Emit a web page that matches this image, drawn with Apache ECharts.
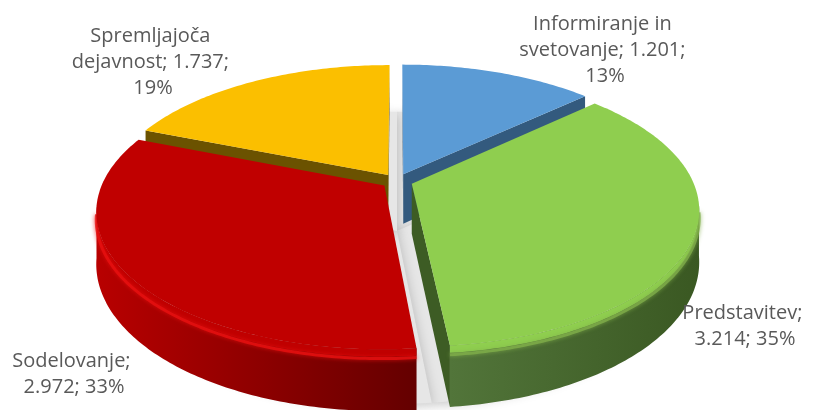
<!DOCTYPE html>
<html>
<head>
<meta charset="utf-8">
<script src="https://cdn.jsdelivr.net/npm/echarts@6/dist/echarts.min.js"></script>
<style>
html, body { margin: 0; padding: 0; background: #fff; }
#chart { width: 813px; height: 410px; }
</style>
</head>
<body>
<div id="chart"></div>
<script>
// data
const categories = ['Informiranje in svetovanje', 'Predstavitev', 'Sodelovanje', 'Spremljajoča dejavnost'];
const values = [1201, 3214, 2972, 1737];

// look
const topColor = ['#5b9bd5', '#8fce4f', '#c00000', '#fbbf00'];
const cutColor = ['#335a7e', '#3d5c24', '#7a0000', '#6b5200'];
const sideColor = [['#4a7fb0', '#2f5578'], ['#52753a', '#3a5822'], ['#b80000', '#640000'], ['#c99a00', '#7a5d00']];
const rimColor = ['#7fb4e4', '#7fae4a', '#e81010', '#ffd24a'];
const labelPos = [[605, 50], [745, 326], [74, 374], [153, 62]];
const labelWidth = [175, 140, 140, 185];

// fake 3d projection of the pie disc
const CX = 397, CY = 181, RX = 281, RY = 132, K = 0.183, H = 50, EXPLODE = 0.056;
const project = (u, v, z) => {
  const w = 1 + K * v;
  return [CX + RX * u / w, CY - RY * v / w + z * H / w];
};

const total = values.reduce((a, b) => a + b, 0);
const startAngle = [], endAngle = [];
let acc = 0;
values.forEach(v => {
  startAngle.push(acc / total * Math.PI * 2);
  acc += v;
  endAngle.push(acc / total * Math.PI * 2);
});
const fmt = v => String(v).replace(/\B(?=(\d{3})+(?!\d))/g, '.');

const visFrom = Math.PI / 2 + Math.asin(K) - 0.03;
const visTo = Math.PI * 1.5 - Math.asin(K) + 0.03;

const renderItem = (params, api) => {
  const i = params.dataIndex;
  const a0 = startAngle[i], a1 = endAngle[i], mid = (a0 + a1) / 2;
  const ox = EXPLODE * Math.sin(mid), oy = EXPLODE * Math.cos(mid);
  const pt = (t, r, z, ex) => {
    const e = ex === false ? 0 : 1;
    return project(e * ox + r * Math.sin(t), e * oy + r * Math.cos(t), z);
  };
  const arc = (t0, t1, z, ex) => {
    const n = Math.max(2, Math.ceil((t1 - t0) / 0.015));
    const pts = [];
    for (let j = 0; j <= n; j++) pts.push(pt(t0 + (t1 - t0) * j / n, 1, z, ex));
    return pts;
  };
  const children = [];
  const depth = Math.round(50 - 30 * Math.cos(mid));

  // soft grey shadow under the whole pie (not exploded)
  children.push({
    type: 'polygon',
    shape: { points: [pt(0, 0, 1, false)].concat(arc(a0, a1, 1, false)) },
    style: { fill: '#e6e6e6', shadowBlur: 12, shadowColor: 'rgba(0,0,0,0.22)', shadowOffsetY: 3 },
    z2: 1
  });

  // cut faces
  const camX = -ox, camY = -1 / K - oy;
  const faces = [[a0, -Math.cos(a0), Math.sin(a0)], [a1, Math.cos(a1), -Math.sin(a1)]];
  faces.forEach(f => {
    if (camX * f[1] + camY * f[2] > 0) {
      children.push({
        type: 'polygon',
        shape: { points: [pt(f[0], 0, 0), pt(f[0], 1, 0), pt(f[0], 1, 1), pt(f[0], 0, 1)] },
        style: { fill: cutColor[i] },
        z2: depth
      });
    }
  });

  // outer wall, with a bevel band and soft highlight at the top
  const s0 = Math.max(a0, visFrom), s1 = Math.min(a1, visTo);
  if (s1 > s0) {
    const topArc = arc(s0, s1, 0);
    const botArc = arc(s0, s1, 1);
    const xs = topArc.map(p => p[0]);
    const x0 = Math.min(...xs), x1 = Math.max(...xs);
    children.push({
      type: 'polygon',
      shape: { points: topArc.concat(botArc.reverse()) },
      style: {
        fill: new echarts.graphic.LinearGradient(x0, 0, x1, 0, [
          { offset: 0, color: sideColor[i][0] },
          { offset: 1, color: sideColor[i][1] }
        ], true)
      },
      z2: depth + 1
    });
    children.push({
      type: 'polygon',
      shape: { points: topArc.concat(arc(s0, s1, 0.12).reverse()) },
      style: { fill: topColor[i] },
      z2: depth + 2
    });
    children.push({
      type: 'polyline',
      shape: { points: arc(s0, s1, 0.15) },
      style: { stroke: rimColor[i], lineWidth: 3, fill: null, opacity: 0.8, shadowBlur: 4, shadowColor: rimColor[i] },
      z2: depth + 3
    });
  }

  // top face
  children.push({
    type: 'polygon',
    shape: { points: [pt(0, 0, 0)].concat(arc(a0, a1, 0)) },
    style: { fill: topColor[i] },
    z2: 100
  });

  // label
  const pct = Math.round(values[i] / total * 100) + '%';
  children.push({
    type: 'text',
    x: labelPos[i][0],
    y: labelPos[i][1],
    style: {
      text: categories[i] + '; ' + fmt(values[i]) + '; ' + pct,
      width: labelWidth[i],
      overflow: 'break',
      align: 'center',
      verticalAlign: 'middle',
      fill: '#595959',
      fontFamily: 'Open Sans',
      fontSize: 20,
      lineHeight: 26
    },
    z2: 200
  });

  return { type: 'group', children: children };
};

const chart = echarts.init(document.getElementById('chart'));
chart.setOption({
  animation: false,
  series: [{
    type: 'custom',
    coordinateSystem: 'none',
    renderItem: renderItem,
    data: values
  }]
});
</script>
</body>
</html>
